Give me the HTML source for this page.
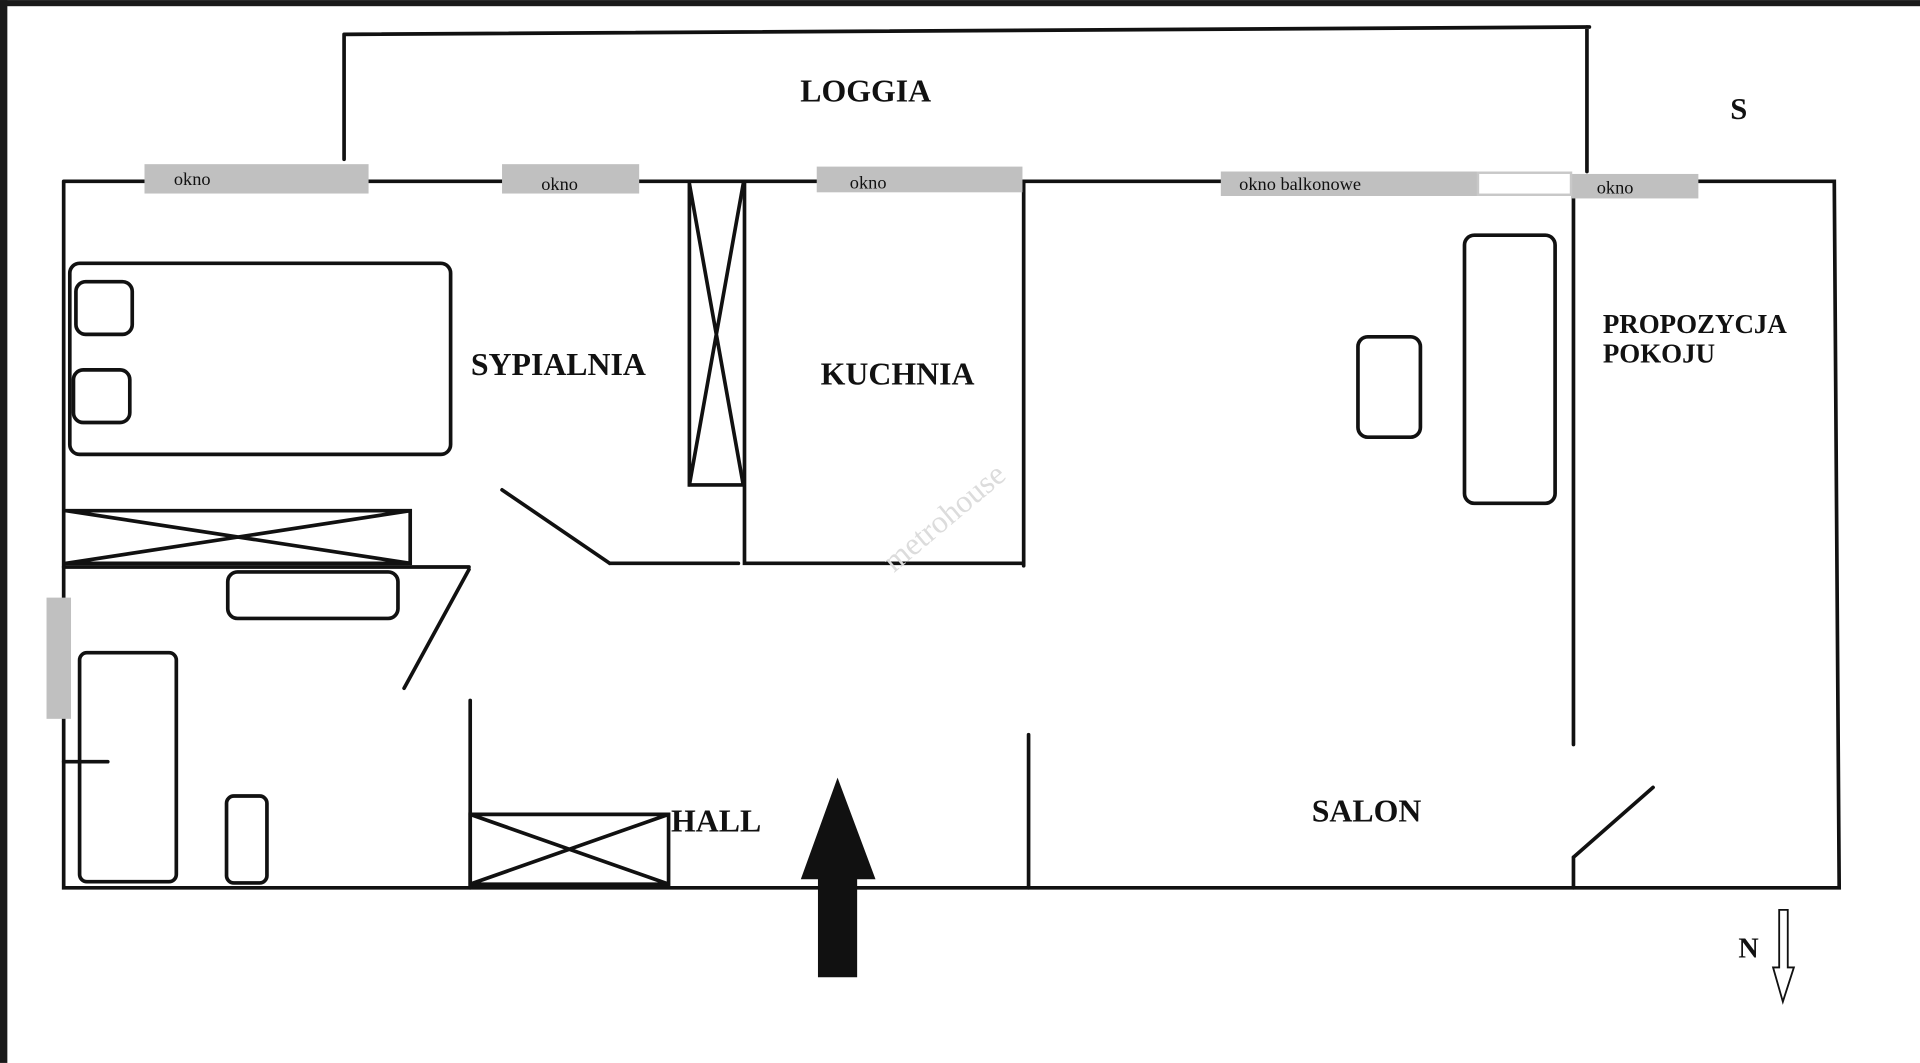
<!DOCTYPE html>
<html><head><meta charset="utf-8"><style>
html,body{margin:0;padding:0;background:#fff;overflow:hidden}
svg{display:block}
text{font-family:"Liberation Serif",serif;fill:#111}
.b{font-weight:bold}
</style></head><body>
<svg width="1920" height="1063" viewBox="0 0 1568 868" xmlns="http://www.w3.org/2000/svg">
<rect x="0" y="0" width="1568" height="868" fill="#fff"/>
<rect x="0" y="0" width="1568" height="5" fill="#1a1a1a"/>
<rect x="0" y="0" width="6" height="868" fill="#1a1a1a"/>
<g stroke="#111" stroke-width="3" fill="none" stroke-linecap="round">
<path d="M281 28 L1298 22 M281 28 L281 130 M1296 22 L1296 140"/>
<path d="M52 148 L118 148 M301 148 L410 148 M522 148 L667 148 M835 148 L997 148 M1387 148 L1498 148 L1502 725 L52 725 L52 148"/>
<path d="M608 148 L608 460 L835 460 M836 148 L836 462 M498 460 L603 460 M410 400 L498 460 M840 600 L840 725"/>
<path d="M563 150 L563 396 L607 396 M563 150 L607 396 M607 150 L563 396"/>
<rect x="57" y="215" width="311" height="156" rx="8"/>
<rect x="62" y="230" width="46" height="43" rx="8"/>
<rect x="60" y="302" width="46" height="43" rx="8"/>
<path d="M54 417 L335 417 L335 460 L54 460 M54 417 L335 460 M335 417 L54 460"/>
<path d="M52 463 L383 463 M383 465 L330 562"/>
<rect x="186" y="467" width="139" height="38" rx="8"/>
<rect x="65" y="533" width="79" height="187" rx="6"/>
<path d="M52 622 L88 622"/>
<rect x="185" y="650" width="33" height="71" rx="6"/>
<path d="M384 572 L384 725"/>
<path d="M384 665 L546 665 L546 722 L384 722 Z M384 665 L546 722 M546 665 L384 722"/>
<path d="M1285 162 L1285 608 M1285 700 L1285 725 M1285 700 L1350 643"/>
<rect x="1196" y="192" width="74" height="219" rx="8"/>
<rect x="1109" y="275" width="51" height="82" rx="8"/>
</g>
<g fill="#c0c0c0">
<rect x="118" y="134" width="183" height="24"/>
<rect x="410" y="134" width="112" height="24"/>
<rect x="667" y="136" width="168" height="21"/>
<rect x="997" y="140" width="210" height="20"/>
<rect x="1283" y="142" width="104" height="20"/>
<rect x="38" y="488" width="20" height="99"/>
</g>
<rect x="1207" y="141" width="76" height="18" fill="#fff" stroke="#c8c8c8" stroke-width="2"/>
<text x="142" y="151" font-size="15">okno</text>
<text x="442" y="155" font-size="15">okno</text>
<text x="694" y="154" font-size="15">okno</text>
<text x="1012" y="155" font-size="15">okno balkonowe</text>
<text x="1304" y="158" font-size="15">okno</text>
<text x="707" y="83" font-size="26" class="b" text-anchor="middle">LOGGIA</text>
<text x="1420" y="97" font-size="25" class="b" text-anchor="middle">S</text>
<text x="456" y="306" font-size="26" class="b" text-anchor="middle">SYPIALNIA</text>
<text x="733" y="314" font-size="26" class="b" text-anchor="middle">KUCHNIA</text>
<text x="1309" y="272" font-size="22" class="b">PROPOZYCJA</text>
<text x="1309" y="296" font-size="22" class="b">POKOJU</text>
<text x="548" y="679" font-size="26" class="b">HALL</text>
<text x="1116" y="671" font-size="26" class="b" text-anchor="middle">SALON</text>
<text x="1428" y="782" font-size="23" class="b" text-anchor="middle">N</text>
<text x="730" y="468" font-size="26" style="fill:#dcdcdc" transform="rotate(-40 730 468)">metrohouse</text>
<path d="M684 635 L715 718 L700 718 L700 798 L668 798 L668 718 L654 718 Z" fill="#111"/>
<path d="M1453 743 L1460 743 L1460 790 L1465 790 L1456 818 L1448 790 L1453 790 Z" fill="#fff" stroke="#111" stroke-width="1.5"/>
</svg>
</body></html>
